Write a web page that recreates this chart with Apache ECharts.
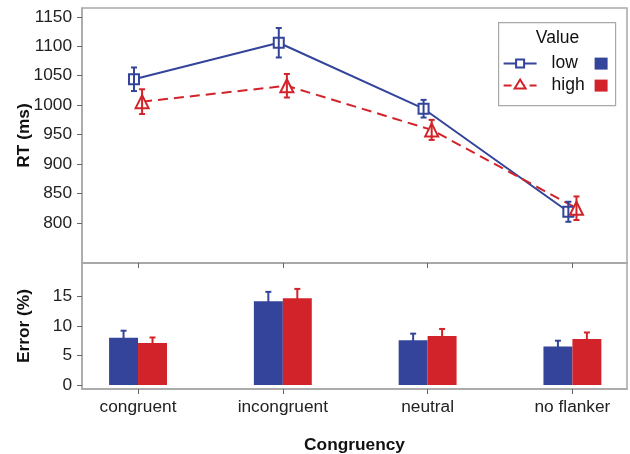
<!DOCTYPE html>
<html><head><meta charset="utf-8">
<script src="https://cdn.jsdelivr.net/npm/echarts@6/dist/echarts.min.js"></script>
<style>html,body{margin:0;padding:0;background:#fff}#c{width:630px;height:454px}</style>
</head><body><div id="c"></div>
<script>
var categories = ['congruent', 'incongruent', 'neutral', 'no flanker'];
var rtLow = [1044, 1106, 994, 819];
var rtLowSE = [20, 25, 15, 17];
var rtHigh = [1006, 1033, 958, 825];
var rtHighSE = [21, 20, 17, 20];
var errLow = [8.0, 14.2, 7.6, 6.5];
var errLowSE = [1.2, 1.6, 1.1, 1.0];
var errHigh = [7.1, 14.7, 8.3, 7.8];
var errHighSE = [0.95, 1.6, 1.2, 1.1];
var rtTicks = [800, 850, 900, 950, 1000, 1050, 1100, 1150];
var errTicks = [0, 5, 10, 15];

var BLUE = '#33449a', RED = '#d2232a', GRAY = '#a8a8a8';
var FONT = 'Liberation Sans, Arial, sans-serif';
var FS = 17.3;
var dodgeLine = 0.028, dodgeBar = 0.1, barW = 0.2;

function pts(vals, off) { return vals.map(function (v, i) { return [i + off, v]; }); }
function errData(vals, se, off) { return vals.map(function (v, i) { return [i + off, v - se[i], v + se[i]]; }); }

function errRender(color, upOnly) {
  return function (params, api) {
    var x = api.value(0);
    var lo = api.coord([x, api.value(1)]);
    var hi = api.coord([x, api.value(2)]);
    var cap = 3;
    var st = { stroke: color, lineWidth: 2 };
    var ch = [
      { type: 'line', shape: { x1: lo[0], y1: lo[1], x2: hi[0], y2: hi[1] }, style: st },
      { type: 'line', shape: { x1: hi[0] - cap, y1: hi[1], x2: hi[0] + cap, y2: hi[1] }, style: st }
    ];
    if (!upOnly) ch.push({ type: 'line', shape: { x1: lo[0] - cap, y1: lo[1], x2: lo[0] + cap, y2: lo[1] }, style: st });
    return { type: 'group', children: ch };
  };
}
function barRender(color) {
  return function (params, api) {
    var x = api.value(0), v = api.value(1);
    var p0 = api.coord([x - barW / 2, 0]);
    var p1 = api.coord([x + barW / 2, v]);
    return { type: 'rect', shape: { x: p0[0], y: p1[1], width: p1[0] - p0[0], height: p0[1] - p1[1] },
      style: { fill: color } };
  };
}
function plain(v) { return String(v); }

var xMin = -0.387, xMax = 3.377;
var axisLineStyle = { show: true, onZero: false, lineStyle: { color: GRAY, width: 1.5 } };
var tickStyle = { color: '#666', width: 1 };
var nameStyle = { fontWeight: 'bold', fontSize: FS, color: '#111', fontFamily: FONT };
var chart = echarts.init(document.getElementById('c'), null, { renderer: 'canvas' });
chart.setOption({
  animation: false,
  textStyle: { fontFamily: FONT },
  grid: [
    { left: 82, right: 3, top: 8, height: 255, show: true, borderColor: GRAY, borderWidth: 1.5, backgroundColor: '#fff',
      containLabel: false, outerBoundsMode: 'none' },
    { left: 82, right: 3, top: 263, height: 126, show: true, borderColor: GRAY, borderWidth: 1.5,
      containLabel: false, outerBoundsMode: 'none' }
  ],
  xAxis: [
    { type: 'value', gridIndex: 0, min: xMin, max: xMax, position: 'bottom', splitLine: { show: false },
      axisLine: axisLineStyle,
      axisTick: { show: true, inside: false, length: 5, lineStyle: tickStyle, customValues: [0, 1, 2, 3] },
      axisLabel: { show: false } },
    { type: 'value', gridIndex: 1, min: xMin, max: xMax, position: 'bottom', splitLine: { show: false },
      axisLine: axisLineStyle,
      axisTick: { show: true, inside: false, length: 5, lineStyle: tickStyle, customValues: [0, 1, 2, 3] },
      axisLabel: { show: true, customValues: [0, 1, 2, 3], color: '#222', fontSize: FS, fontFamily: FONT, margin: 10,
        formatter: function (v) { return categories[Math.round(v)]; } },
      name: 'Congruency', nameLocation: 'middle', nameGap: 48, nameMoveOverlap: false, nameTextStyle: nameStyle }
  ],
  yAxis: [
    { type: 'value', gridIndex: 0, min: 732, max: 1165, splitLine: { show: false },
      axisLine: axisLineStyle,
      axisTick: { show: true, length: 5, lineStyle: tickStyle, customValues: rtTicks },
      axisLabel: { customValues: rtTicks, formatter: plain, color: '#222', fontSize: FS, fontFamily: FONT, margin: 10 },
      name: 'RT (ms)', nameLocation: 'middle', nameRotate: 90, nameGap: 49, nameMoveOverlap: false, nameTextStyle: nameStyle },
    { type: 'value', gridIndex: 1, min: -0.7, max: 20.7, splitLine: { show: false },
      axisLine: axisLineStyle,
      axisTick: { show: true, length: 5, lineStyle: tickStyle, customValues: errTicks },
      axisLabel: { customValues: errTicks, formatter: plain, color: '#222', fontSize: FS, fontFamily: FONT, margin: 10 },
      name: 'Error (%)', nameLocation: 'middle', nameRotate: 90, nameGap: 49, nameMoveOverlap: false, nameTextStyle: nameStyle }
  ],
  series: [
    { name: 'low', type: 'line', xAxisIndex: 0, yAxisIndex: 0, data: pts(rtLow, -dodgeLine),
      symbol: 'rect', symbolSize: 10, showAllSymbol: true, z: 3,
      lineStyle: { color: BLUE, width: 2 }, itemStyle: { color: '#fff', borderColor: BLUE, borderWidth: 2 } },
    { name: 'high', type: 'line', xAxisIndex: 0, yAxisIndex: 0, data: pts(rtHigh, dodgeLine),
      symbol: 'triangle', symbolSize: 13, z: 3,
      lineStyle: { color: RED, width: 2, type: [10, 6] }, itemStyle: { color: '#fff', borderColor: RED, borderWidth: 2 } },
    { type: 'custom', xAxisIndex: 0, yAxisIndex: 0, data: errData(rtLow, rtLowSE, -dodgeLine), renderItem: errRender(BLUE, false), z: 4, clip: false },
    { type: 'custom', xAxisIndex: 0, yAxisIndex: 0, data: errData(rtHigh, rtHighSE, dodgeLine), renderItem: errRender(RED, false), z: 4, clip: false },
    { type: 'custom', xAxisIndex: 1, yAxisIndex: 1, data: pts(errLow, -dodgeBar), renderItem: barRender(BLUE), z: 3 },
    { type: 'custom', xAxisIndex: 1, yAxisIndex: 1, data: pts(errHigh, dodgeBar), renderItem: barRender(RED), z: 3 },
    { type: 'custom', xAxisIndex: 1, yAxisIndex: 1, data: errData(errLow, errLowSE, -dodgeBar), renderItem: errRender(BLUE, true), z: 2 },
    { type: 'custom', xAxisIndex: 1, yAxisIndex: 1, data: errData(errHigh, errHighSE, dodgeBar), renderItem: errRender(RED, true), z: 2 }
  ],
  graphic: [
    { type: 'group', left: 498, top: 22, children: [
      { type: 'rect', shape: { x: 0, y: 0, width: 117, height: 83 }, style: { fill: '#fff', stroke: GRAY, lineWidth: 1.2 } },
      { type: 'text', x: 59, y: 16, style: { text: 'Value', font: '17.5px ' + FONT, fill: '#111', align: 'center', verticalAlign: 'middle' } },
      { type: 'line', shape: { x1: 5, y1: 41, x2: 38, y2: 41 }, style: { stroke: BLUE, lineWidth: 2 } },
      { type: 'rect', shape: { x: 17.5, y: 37, width: 8, height: 8 }, style: { fill: '#fff', stroke: BLUE, lineWidth: 2 } },
      { type: 'text', x: 53, y: 41, style: { text: 'low', font: '17.5px ' + FONT, fill: '#111', verticalAlign: 'middle' } },
      { type: 'rect', shape: { x: 96, y: 35, width: 13, height: 12 }, style: { fill: BLUE } },
      { type: 'line', shape: { x1: 5, y1: 63, x2: 38, y2: 63 }, style: { stroke: RED, lineWidth: 2, lineDash: [8, 5] } },
      { type: 'polygon', shape: { points: [[21.5, 57], [27, 66], [16, 66]] }, style: { fill: '#fff', stroke: RED, lineWidth: 2 } },
      { type: 'text', x: 53, y: 63, style: { text: 'high', font: '17.5px ' + FONT, fill: '#111', verticalAlign: 'middle' } },
      { type: 'rect', shape: { x: 96, y: 57, width: 13, height: 12 }, style: { fill: RED } }
    ] }
  ]
});
</script></body></html>
